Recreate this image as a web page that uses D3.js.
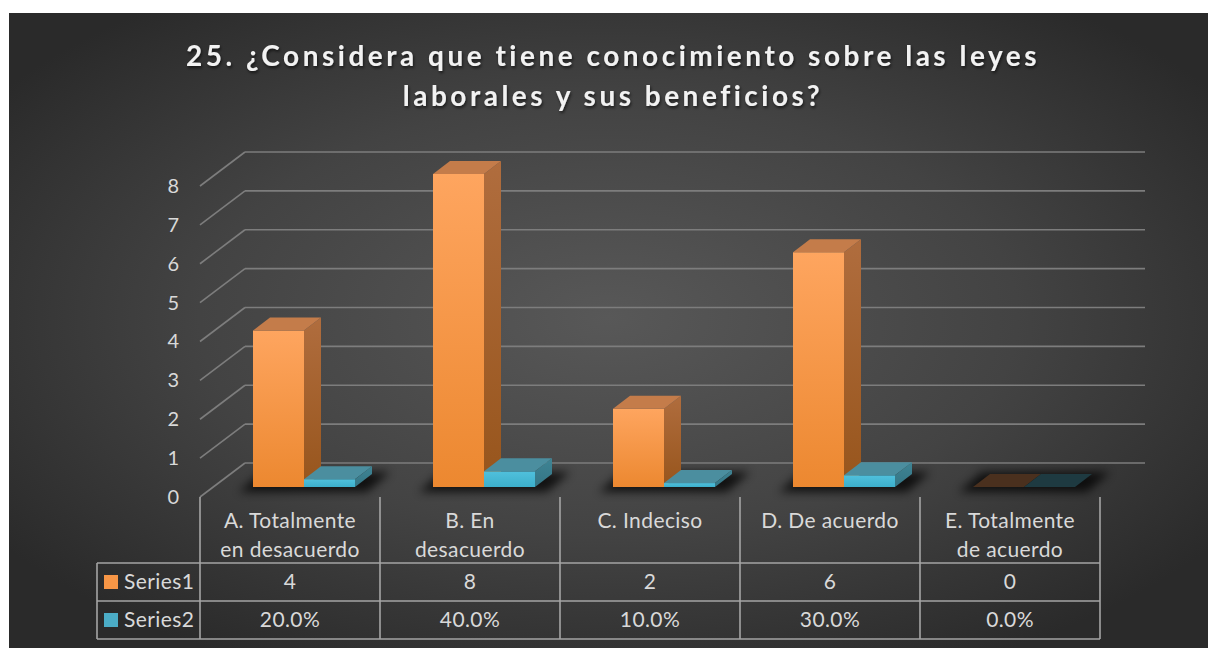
<!DOCTYPE html>
<html>
<head>
<meta charset="utf-8">
<script src="https://cdn.jsdelivr.net/npm/d3@7"></script>
<style>
  body { margin: 0; background: #fff; }
  svg { display: block; font-family: Lato, "Liberation Sans", sans-serif; }
</style>
</head>
<body>
<svg id="chart" width="1208" height="648"></svg>
<script>
// chart data
var categories = ["A. Totalmente|en desacuerdo", "B. En|desacuerdo", "C. Indeciso", "D. De acuerdo", "E. Totalmente|de acuerdo"]
var series1 = [4, 8, 2, 6, 0]
var series2 = [0.2, 0.4, 0.1, 0.3, 0]
var series1Labels = ["4", "8", "2", "6", "0"]
var series2Labels = ["20.0%", "40.0%", "10.0%", "30.0%", "0.0%"]
var seriesNames = ["Series1", "Series2"]
var yTicks = [0, 1, 2, 3, 4, 5, 6, 7, 8]
var titleLines = ["25. ¿Considera que tiene conocimiento sobre las leyes", "laborales y sus beneficios?"]

var svg = d3.select("#chart")
var defs = svg.append("defs")

// background
var bg = defs.append("radialGradient").attr("id", "bg")
  .attr("cx", "0.5").attr("cy", "0.48").attr("r", "0.62")
bg.append("stop").attr("offset", "0").attr("stop-color", "#585858")
bg.append("stop").attr("offset", "0.55").attr("stop-color", "#434343")
bg.append("stop").attr("offset", "1").attr("stop-color", "#2a2a2a")

svg.append("rect")
  .attr("x", 9).attr("y", 13).attr("width", 1199).attr("height", 635)
  .attr("fill", "url(#bg)")

function grad(id, top, bottom) {
  var g = defs.append("linearGradient").attr("id", id)
    .attr("x1", 0).attr("y1", 0).attr("x2", 0).attr("y2", 1)
  g.append("stop").attr("offset", "0").attr("stop-color", top)
  g.append("stop").attr("offset", "1").attr("stop-color", bottom)
}
grad("front0", "#fea55f", "#ec8830")
grad("side0", "#b06d3e", "#97551c")
grad("front1", "#50c0dc", "#3cafcb")
grad("side1", "#3f8494", "#347585")

var faceColors = [
  { front: "url(#front0)", side: "url(#side0)", top: "#c47c4a", flat: "#4a301e" },
  { front: "url(#front1)", side: "url(#side1)", top: "#4b8e9f", flat: "#1e3a41" }
]

defs.append("filter").attr("id", "blur")
  .attr("x", "-50%").attr("y", "-100%").attr("width", "200%").attr("height", "300%")
  .append("feGaussianBlur").attr("stdDeviation", 5)

var tshadow = defs.append("filter").attr("id", "tshadow")
tshadow.append("feDropShadow").attr("dx", 1).attr("dy", 2).attr("stdDeviation", 1.5)
  .attr("flood-color", "#000").attr("flood-opacity", 0.6)

// title
svg.append("g").selectAll("text")
  .data(titleLines)
  .enter()
  .append("text")
  .attr("x", 613)
  .attr("y", (d, i) => 66 + i * 40)
  .attr("text-anchor", "middle")
  .attr("font-size", 28)
  .attr("font-weight", "bold")
  .attr("letter-spacing", 3.5)
  .attr("fill", "#f2f2f2")
  .attr("filter", "url(#tshadow)")
  .text(d => d)

// scales
var x = d3.scaleBand().domain(categories).range([200, 1100])
var yWall = d3.scaleLinear().domain([0, 8]).range([463, 152])
var yFront = d3.scaleLinear().domain([0, 8]).range([497, 186])
var yBar = d3.scaleLinear().domain([0, 8]).range([487, 174])
var depthX = 45, depthY = 34
var barDx = 17, barDy = -13
var sx = d3.scaleBand().domain([0, 1]).range([53, 155])

// back wall grid + side wall diagonals
var grid = svg.append("g")
grid.selectAll("line.h")
  .data(yTicks)
  .enter()
  .append("line")
  .attr("x1", 200 + depthX).attr("x2", 1145)
  .attr("y1", d => yWall(d)).attr("y2", d => yWall(d))
  .attr("stroke", "#7d7d7d").attr("stroke-width", 1.6)
grid.selectAll("line.d")
  .data(yTicks)
  .enter()
  .append("line")
  .attr("x1", 200 + depthX).attr("y1", d => yWall(d))
  .attr("x2", 200).attr("y2", d => yWall(d) + depthY)
  .attr("stroke", "#7d7d7d").attr("stroke-width", 1.6)

// value axis
var axis = svg.append("g")
  .attr("transform", "translate(200,0)")
  .call(d3.axisLeft(yFront).tickValues(yTicks).tickSize(0).tickPadding(21))
axis.select(".domain").remove()
axis.selectAll("text")
  .attr("font-size", 20)
  .attr("font-family", "Lato, sans-serif")
  .attr("fill", "#d9d9d9")

// bars
var bars = svg.append("g")
var shadows = bars.append("g")
categories.forEach(function(cat, i) {
  var gx = x(cat) + sx(0)
  var w = sx.bandwidth()
  var b = yBar(0)
  shadows.append("polygon")
    .attr("points", [[gx - 14, b + 5], [gx + 2 * w + 12, b + 5], [gx + 2 * w + barDx + 18, b + barDy - 2], [gx + barDx - 8, b + barDy - 2]].join(" "))
    .attr("fill", "#000").attr("opacity", 0.75)
    .attr("filter", "url(#blur)")
})

var barData = []
categories.forEach(function(cat, i) {
  barData.push({ cat: cat, s: 0, v: series1[i] })
  barData.push({ cat: cat, s: 1, v: series2[i] })
})

var bar = bars.selectAll("g.bar")
  .data(barData)
  .enter()
  .append("g")
  .attr("class", "bar")

bar.each(function(d) {
  var g = d3.select(this)
  var x0 = x(d.cat) + sx(d.s)
  var w = sx.bandwidth()
  var t = yBar(d.v)
  var b = yBar(0)
  var c = faceColors[d.s]
  if (d.v > 0) {
    g.append("polygon")
      .attr("points", [[x0 + w, t], [x0 + w + barDx, t + barDy], [x0 + w + barDx, b + barDy], [x0 + w, b]].join(" "))
      .attr("fill", c.side)
    g.append("rect")
      .attr("x", x0).attr("y", t).attr("width", w).attr("height", b - t)
      .attr("fill", c.front)
  }
  g.append("polygon")
    .attr("points", [[x0, t], [x0 + barDx, t + barDy], [x0 + w + barDx, t + barDy], [x0 + w, t]].join(" "))
    .attr("fill", d.v > 0 ? c.top : c.flat)
})

// data table
var table = svg.append("g")
var lineColor = "#a5a5a5"
table.selectAll("line.v")
  .data(d3.range(categories.length + 1))
  .enter()
  .append("line")
  .attr("x1", d => 200 + d * x.bandwidth()).attr("x2", d => 200 + d * x.bandwidth())
  .attr("y1", 497).attr("y2", 639)
  .attr("stroke", lineColor).attr("stroke-width", 1.6)
table.append("line")
  .attr("x1", 97).attr("x2", 97).attr("y1", 563).attr("y2", 639)
  .attr("stroke", lineColor).attr("stroke-width", 1.6)
table.selectAll("line.r")
  .data([563, 601, 639])
  .enter()
  .append("line")
  .attr("x1", 97).attr("x2", 1100)
  .attr("y1", d => d).attr("y2", d => d)
  .attr("stroke", lineColor).attr("stroke-width", 1.6)

var textColor = "#d9d9d9"
var fs = 21, ls = 0.4
categories.forEach(function(cat) {
  var cx = x(cat) + x.bandwidth() / 2
  cat.split("|").forEach(function(line, j) {
    table.append("text")
      .attr("x", cx).attr("y", 521 + j * 29)
      .attr("dy", "0.35em")
      .attr("text-anchor", "middle")
      .attr("font-size", fs).attr("letter-spacing", ls)
      .attr("fill", textColor)
      .text(line)
  })
})

var rows = [series1Labels, series2Labels]
rows.forEach(function(labels, r) {
  var cy = 582 + r * 38
  table.selectAll(null)
    .data(labels)
    .enter()
    .append("text")
    .attr("x", (d, i) => x(categories[i]) + x.bandwidth() / 2)
    .attr("y", cy)
    .attr("dy", "0.35em")
    .attr("text-anchor", "middle")
    .attr("font-size", fs).attr("letter-spacing", ls)
    .attr("fill", textColor)
    .text(d => d)
  table.append("rect")
    .attr("x", 104).attr("y", cy - 7).attr("width", 14).attr("height", 14)
    .attr("fill", r === 0 ? "#f79646" : "#4bacc6")
  table.append("text")
    .attr("x", 124).attr("y", cy)
    .attr("dy", "0.35em")
    .attr("font-size", fs).attr("letter-spacing", ls)
    .attr("fill", textColor)
    .text(seriesNames[r])
})
</script>
</body>
</html>
